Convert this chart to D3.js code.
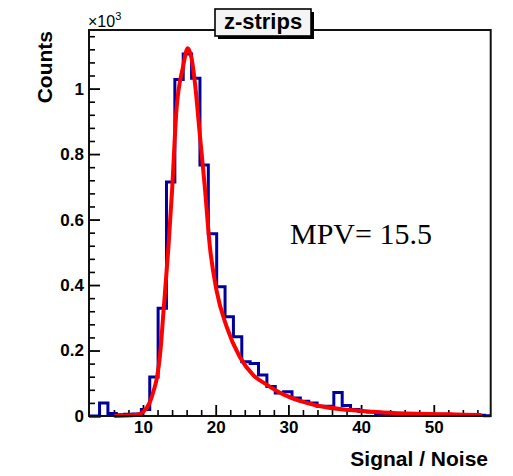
<!DOCTYPE html>
<html>
<head>
<meta charset="utf-8">
<script src="https://cdn.jsdelivr.net/npm/d3@7"></script>
<style>
  html, body { margin: 0; padding: 0; background: #fff; }
  svg { display: block; }
  .lbl { font-family: "Liberation Sans", Arial, Helvetica, sans-serif; font-weight: bold; fill: #000; }
</style>
</head>
<body>
<svg id="chart" width="513" height="476"></svg>
<script>
// ---- data ----
const xRange = [2.57, 57.83];         // axis range (Signal / Noise)
const binStart = 2.87;                // low edge of first bin
const binWidth = 1.151;
const binCounts = [
  0, 40, 8, 4, 5, 6, 20, 119, 329, 715,
  1028, 1106, 1032, 767, 557, 395, 303, 242, 166, 160,
  125, 90, 70, 74, 55, 45, 40, 30, 30, 72,
  32, 20, 14, 12, 8, 8, 7, 6, 5, 5,
  4, 4, 5, 4, 3, 3, 2, 1
];
const fitX = [6.2, 9, 10, 10.9, 11.5, 11.9, 12.4, 12.8, 13.5, 14.0, 14.6, 15.5, 16.15, 16.7, 17.15, 17.8, 18.5, 19.2, 20.1, 21.5, 23.3, 25.2, 27.0, 29.3, 31.6, 33.9, 38.5, 43.0, 47.6, 52, 56.4];
const fitY = [0, 3, 12, 40, 80, 115, 200, 314, 517, 690, 934, 1066, 1123, 1090, 1016, 863, 700, 517, 385, 273, 181, 124, 96, 66, 46, 32, 18, 11, 7, 5, 3];
const yTickValues = [0, 200, 400, 600, 800, 1000];
const yTickLabels = ["0", "0.2", "0.4", "0.6", "0.8", "1"];
const xTickValues = [10, 20, 30, 40, 50];
const xTickLabels = ["10", "20", "30", "40", "50"];
const yMax = 1179;
const titleText = "z-strips";
const mpvText = "MPV= 15.5";

// ---- layout ----
const svg = d3.select("#chart");
const L = 89, R = 490.7, T = 30, B = 416;
const x = d3.scaleLinear().domain(xRange).range([L, R]);
const y = d3.scaleLinear().domain([0, yMax]).range([B, T]);

// minor ticks
const yMinor = d3.range(0, yMax, 40).filter(v => !yTickValues.includes(v));
const xMinor = d3.range(4, xRange[1], 2).filter(v => !xTickValues.includes(v));

svg.append("g").attr("transform", `translate(${L},0)`)
  .call(d3.axisLeft(y).tickValues(yMinor).tickSize(-6).tickFormat(""))
  .call(g => g.select(".domain").remove())
  .call(g => g.selectAll("line").attr("stroke", "#000").attr("stroke-width", 1.6));
svg.append("g").attr("transform", `translate(0,${B})`)
  .call(d3.axisBottom(x).tickValues(xMinor).tickSize(-6).tickFormat(""))
  .call(g => g.select(".domain").remove())
  .call(g => g.selectAll("line").attr("stroke", "#000").attr("stroke-width", 1.6));

// major y axis
const yAxis = svg.append("g").attr("transform", `translate(${L},0)`)
  .call(d3.axisLeft(y).tickValues(yTickValues).tickSize(-11).tickPadding(5)
    .tickFormat((d, i) => yTickLabels[i]));
yAxis.select(".domain").remove();
yAxis.selectAll("line").attr("stroke", "#000").attr("stroke-width", 1.8);
yAxis.selectAll("text").attr("class", "lbl").attr("font-size", 17);

// major x axis
const xAxis = svg.append("g").attr("transform", `translate(0,${B})`)
  .call(d3.axisBottom(x).tickValues(xTickValues).tickSize(-11).tickPadding(5)
    .tickFormat((d, i) => xTickLabels[i]));
xAxis.select(".domain").remove();
xAxis.selectAll("line").attr("stroke", "#000").attr("stroke-width", 1.8);
xAxis.selectAll("text").attr("class", "lbl").attr("font-size", 17);

// histogram (step outline)
const pts = [];
binCounts.forEach((c, i) => {
  const lo = Math.max(xRange[0], binStart + i * binWidth);
  const hi = Math.min(xRange[1], binStart + (i + 1) * binWidth);
  if (i === 0) pts.push([x(xRange[0]), y(c)]);
  pts.push([x(lo), y(c)], [x(hi), y(c)]);
});
svg.append("path")
  .attr("d", d3.line()(pts))
  .attr("fill", "none").attr("stroke", "#00009c").attr("stroke-width", 3)
  .attr("stroke-linejoin", "miter");

// fit curve
const fitPts = fitX.map((v, i) => [x(v), y(fitY[i])]);
svg.append("path")
  .attr("d", d3.line().curve(d3.curveMonotoneX)(fitPts))
  .attr("fill", "none").attr("stroke", "#ff0000").attr("stroke-width", 4)
  .attr("stroke-linejoin", "round").attr("stroke-linecap", "round");

// frame
svg.append("rect").attr("x", L).attr("y", T).attr("width", R - L).attr("height", B - T)
  .attr("fill", "none").attr("stroke", "#111").attr("stroke-width", 2);

// axis titles
svg.append("text").attr("class", "lbl").attr("font-size", 21)
  .attr("text-anchor", "end")
  .attr("transform", `translate(52,${T + 1}) rotate(-90)`)
  .text("Counts");
svg.append("text").attr("class", "lbl").attr("font-size", 21)
  .attr("text-anchor", "end").attr("x", 488).attr("y", 466)
  .text("Signal / Noise");

// exponent
const ex = svg.append("text").attr("x", 88).attr("y", 27)
  .attr("font-family", "Liberation Sans, Arial, sans-serif").attr("font-size", 16).attr("fill", "#000");
ex.append("tspan").text("\u00d710");
ex.append("tspan").attr("font-size", 11).attr("dy", -7).text("3");

// title box
const tb = { x: 215, y: 9, w: 96, h: 27 };
svg.append("rect").attr("x", tb.x + 3).attr("y", tb.y + 3).attr("width", tb.w).attr("height", tb.h).attr("fill", "#000");
svg.append("rect").attr("x", tb.x).attr("y", tb.y).attr("width", tb.w).attr("height", tb.h)
  .attr("fill", "#f4f4f4").attr("stroke", "#000").attr("stroke-width", 1.6);
svg.append("text").attr("class", "lbl").attr("font-size", 22)
  .attr("text-anchor", "middle").attr("x", tb.x + tb.w / 2).attr("y", tb.y + 20)
  .text(titleText);

// MPV annotation
svg.append("text").attr("x", 290).attr("y", 244)
  .attr("font-family", "Liberation Serif, 'Times New Roman', serif").attr("font-size", 30).attr("fill", "#000")
  .text(mpvText);
</script>
</body>
</html>
